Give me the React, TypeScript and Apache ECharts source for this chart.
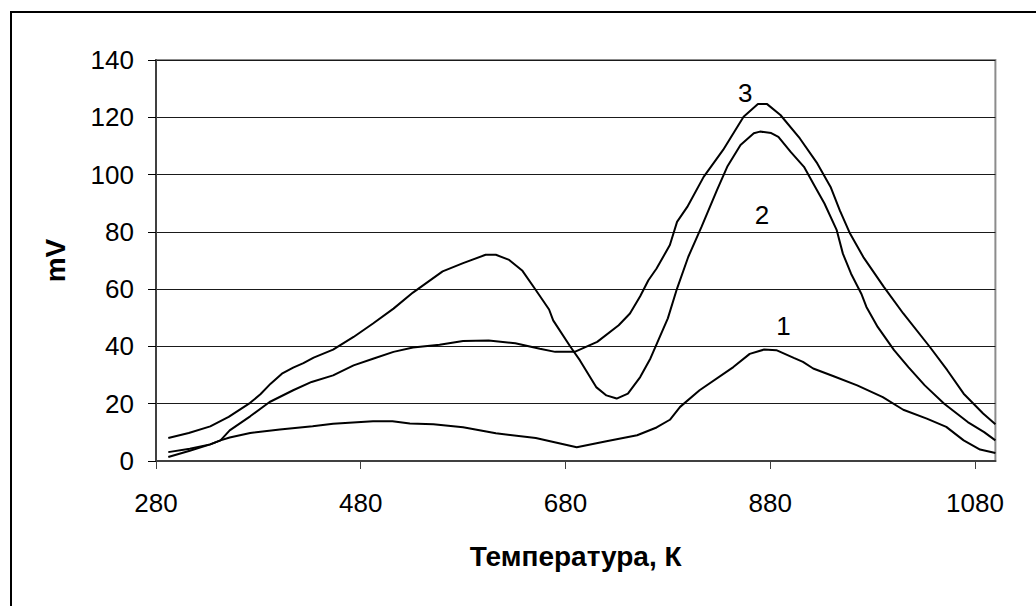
import React, { useEffect, useRef } from "react";
import * as echarts from "echarts";

const xTicks = [280, 480, 680, 880, 1080];
const yTicks = [0, 20, 40, 60, 80, 100, 120, 140];

const series1: [number, number][] = [
  [292, 3.1], [313, 4.3], [333, 5.8], [343, 7.2], [352, 8.2], [372, 9.8], [401, 11], [433, 12.1],
  [453, 13], [492, 13.9], [511, 13.9], [528, 13.1], [551, 12.8], [580, 11.8], [612, 9.7],
  [651, 8.0], [691, 4.8], [720, 6.9], [750, 9.0], [769, 11.7], [782, 14.4], [792, 18.9],
  [811, 24.7], [844, 32.8], [860, 37.4], [874, 38.9], [886, 38.7], [903, 36.0], [912, 34.6],
  [922, 32.3], [942, 29.6], [965, 26.4], [990, 22.3], [1010, 17.9], [1033, 14.8],
  [1052, 11.9], [1069, 7.2], [1085, 4.0], [1100, 2.8],
];

const series2: [number, number][] = [
  [292, 8.0], [312, 9.8], [333, 12.1], [351, 15.4], [372, 20.3], [382, 23.3], [392, 27],
  [403, 30.5], [414, 32.6], [424, 34.2], [434, 36.1], [453, 38.9], [473, 43.3], [492, 48],
  [512, 53.2], [531, 58.8], [560, 66.2], [580, 69.1], [602, 72], [612, 72], [625, 70.2],
  [638, 66.4], [651, 59.7], [664, 52.9], [668, 49.1], [685, 39.8], [694, 35.2], [710, 25.8],
  [720, 22.9], [730, 21.8], [741, 23.5], [753, 29.3], [763, 35.8], [780, 49.8], [789, 60.2],
  [800, 71.3], [813, 81.8], [828, 94.6], [838, 102.7], [851, 110.3], [864, 114.4],
  [870, 115], [881, 114.5], [888, 113.2], [900, 107.9], [913, 102.7], [923, 96.3],
  [933, 89.9], [945, 80.6], [951, 72.4], [959, 65.4], [969, 58.4], [974, 53.8], [985, 46.8],
  [1001, 38.7], [1015, 32.8], [1031, 26.4], [1050, 20.0], [1073, 13.6], [1089, 10.1],
  [1100, 7.2],
];

const series3: [number, number][] = [
  [292, 1.4], [313, 3.6], [333, 5.8], [343, 7.2], [352, 10.7], [372, 15.6], [391, 20.6],
  [414, 24.7], [432, 27.6], [453, 29.9], [473, 33.4], [492, 35.7], [512, 38.1], [531, 39.6],
  [557, 40.6], [580, 41.9], [605, 42.1], [631, 41.1], [655, 39.2], [670, 38.1], [689, 38.1],
  [711, 41.6], [732, 47.4], [743, 51.5], [753, 57.5], [761, 63.1], [769, 67.2], [782, 75.4],
  [789, 83.5], [799, 88.7], [815, 99.2], [834, 108.6], [854, 120.2], [868, 124.6],
  [877, 124.6], [890, 120.8], [909, 112.6], [926, 103.9], [939, 95.7], [948, 87.5],
  [958, 79.4], [971, 71.2], [991, 60.8], [1010, 51.5], [1036, 39.8], [1053, 31.7],
  [1069, 23.5], [1088, 16.6], [1100, 12.8],
];

const curveLabels = [
  { name: "1", coord: [893, 47.2] },
  { name: "2", coord: [872, 85.8] },
  { name: "3", coord: [855.5, 128.4] },
];

const FONT = "'Liberation Sans', Arial, Helvetica, sans-serif";

export default function App() {
  const ref = useRef<HTMLDivElement>(null);
  useEffect(() => {
    if (!ref.current) return;
    const chart = echarts.init(ref.current, undefined, { renderer: "svg" });
    const mkSeries = (name: string, data: [number, number][], label: any) => ({
      name,
      type: "line",
      data,
      showSymbol: false,
      symbol: "none",
      lineStyle: { color: "#000", width: 2 },
      markPoint: {
        symbol: "circle",
        symbolSize: 1,
        itemStyle: { color: "rgba(0,0,0,0)" },
        label: {
          show: true,
          position: "inside",
          color: "#000",
          fontSize: 26,
          fontFamily: FONT,
          formatter: label.name,
        },
        data: [{ coord: label.coord }],
      },
    });
    chart.setOption({
      animation: false,
      backgroundColor: "#fff",
      textStyle: { fontFamily: FONT },
      grid: {
        left: 156,
        top: 60,
        right: 40.6,
        bottom: 145,
        show: true,
        borderColor: "#8c8c8c",
        borderWidth: 2,
      },
      graphic: [
        {
          type: "rect",
          shape: { x: 11, y: 12, width: 1200, height: 800 },
          style: { fill: "none", stroke: "#000", lineWidth: 2 },
          silent: true,
        },
      ],
      xAxis: {
        type: "value",
        min: 280,
        max: 1100,
        interval: 200,
        name: "Температура, К",
        nameLocation: "middle",
        nameGap: 81,
        nameTextStyle: { fontSize: 28, fontWeight: "bold", color: "#000", fontFamily: FONT },
        axisLine: { show: true, lineStyle: { color: "#404040", width: 2 } },
        axisTick: {
          show: true,
          length: 8,
          inside: false,
          lineStyle: { color: "#404040", width: 1 },
          customValues: xTicks,
        },
        axisLabel: {
          fontSize: 26,
          color: "#000",
          margin: 29,
          fontFamily: FONT,
          customValues: xTicks,
          formatter: (v: number) => String(v),
        },
        splitLine: { show: false },
      },
      yAxis: {
        type: "value",
        min: 0,
        max: 140,
        interval: 20,
        name: "mV",
        nameLocation: "middle",
        nameRotate: 90,
        nameGap: 87,
        nameTextStyle: { fontSize: 28, fontWeight: "bold", color: "#000", fontFamily: FONT },
        axisLine: { show: true, lineStyle: { color: "#404040", width: 2 } },
        axisTick: { show: true, length: 8, inside: false, lineStyle: { color: "#000", width: 1 } },
        axisLabel: { fontSize: 26, color: "#000", margin: 22, fontFamily: FONT, formatter: (v: number) => String(v) },
        splitLine: { show: true, lineStyle: { color: "#1a1a1a", width: 1 } },
      },
      series: [
        mkSeries("1", series1, curveLabels[0]),
        mkSeries("2", series2, curveLabels[1]),
        mkSeries("3", series3, curveLabels[2]),
      ],
    });
    return () => chart.dispose();
  }, []);
  return (
    <div
      ref={ref}
      style={{ position: "absolute", left: 0, top: 0, width: 1036, height: 606, background: "#fff" }}
    />
  );
}
